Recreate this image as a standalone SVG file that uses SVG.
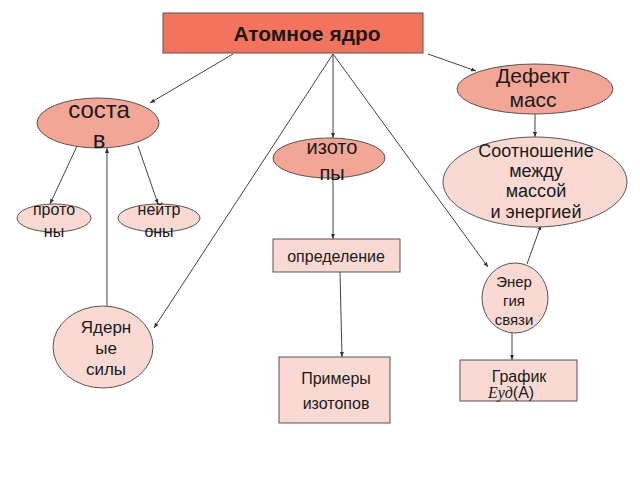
<svg xmlns="http://www.w3.org/2000/svg" width="640" height="480" viewBox="0 0 640 480">
<style>
text{font-family:"Liberation Sans",Arial,sans-serif;fill:#1a1a1a;text-anchor:middle}
.dark{fill:#F3A596;stroke:#555;stroke-width:1}
.light{fill:#F9D9D2;stroke:#555;stroke-width:1}
.conn line{stroke:#444;stroke-width:1;marker-end:url(#ah)}
</style>
<defs>
<marker id="ah" viewBox="0 0 10 10" refX="10" refY="5" markerWidth="5" markerHeight="5" orient="auto-start-reverse">
<path d="M0,1 L10,5 L0,9 z" fill="#333"/>
</marker>
</defs>
<rect width="640" height="480" fill="#fff"/>
<g class="conn">
<line x1="233" y1="54" x2="150" y2="103"/>
<line x1="333" y1="54" x2="333" y2="138"/>
<line x1="333" y1="54" x2="154" y2="328"/>
<line x1="333" y1="54" x2="488" y2="267"/>
<line x1="428" y1="54" x2="476" y2="71"/>
<line x1="535" y1="114" x2="535" y2="137"/>
<line x1="77" y1="146" x2="50" y2="204"/>
<line x1="138" y1="146" x2="158" y2="204"/>
<line x1="107" y1="306" x2="107" y2="148"/>
<line x1="333" y1="178" x2="333" y2="239"/>
<line x1="340" y1="272" x2="342" y2="357"/>
<line x1="527" y1="264" x2="541" y2="225"/>
<line x1="512" y1="333" x2="512" y2="360"/>
</g>
<g id="n-atom">
<rect x="163" y="13" width="260" height="40" fill="#F4735D" stroke="#555"/>
<text x="307" y="41" font-size="21" font-weight="bold">Атомное ядро</text>
</g>
<g id="n-sostav">
<ellipse cx="98" cy="123" rx="61" ry="25" class="dark"/>
<text x="99" y="118" font-size="24">соста</text>
<text x="99" y="148" font-size="24">в</text>
</g>
<g id="n-izotopy">
<ellipse cx="329" cy="158" rx="56" ry="20" class="dark"/>
<text x="332" y="154" font-size="20">изото</text>
<text x="332" y="180" font-size="20">пы</text>
</g>
<g id="n-defekt">
<ellipse cx="535" cy="89" rx="78" ry="25" class="dark"/>
<text x="533" y="83" font-size="21">Дефект</text>
<text x="533" y="107" font-size="21">масс</text>
</g>
<g id="n-sootn">
<ellipse cx="535" cy="182" rx="92" ry="45" class="light"/>
<text x="536" y="157" font-size="18">Соотношение</text>
<text x="536" y="177" font-size="18">между</text>
<text x="536" y="197" font-size="18">массой</text>
<text x="536" y="218" font-size="18">и энергией</text>
</g>
<g id="n-protony">
<ellipse cx="54" cy="218" rx="37" ry="14" class="light"/>
<text x="54" y="215" font-size="16">прото</text>
<text x="54" y="237" font-size="16">ны</text>
</g>
<g id="n-neitrony">
<ellipse cx="159" cy="218" rx="41" ry="14" class="light"/>
<text x="159" y="215" font-size="16">нейтр</text>
<text x="159" y="237" font-size="16">оны</text>
</g>
<g id="n-energiya">
<ellipse cx="515" cy="298" rx="33" ry="35" class="light"/>
<text x="514" y="287" font-size="15">Энер</text>
<text x="514" y="306" font-size="15">гия</text>
<text x="514" y="325" font-size="15">связи</text>
</g>
<g id="n-yadernye">
<ellipse cx="103" cy="347" rx="50" ry="41" class="light"/>
<text x="106" y="333" font-size="17">Ядерн</text>
<text x="106" y="354" font-size="17">ые</text>
<text x="106" y="375" font-size="17">силы</text>
</g>
<g id="n-opredelenie">
<rect x="273" y="239" width="127" height="33" class="light"/>
<text x="336" y="262" font-size="16">определение</text>
</g>
<g id="n-primery">
<rect x="279" y="357" width="111" height="66" class="light"/>
<text x="336" y="384" font-size="16">Примеры</text>
<text x="336" y="409" font-size="16">изотопов</text>
</g>
<g id="n-grafik">
<rect x="460" y="360" width="117" height="41" class="light"/>
<text x="519" y="382" font-size="16">График</text>
<text x="511" y="398" font-size="16"><tspan font-family="'Liberation Serif',serif" font-style="italic">Eуд</tspan>(A)</text>
</g>
</svg>
